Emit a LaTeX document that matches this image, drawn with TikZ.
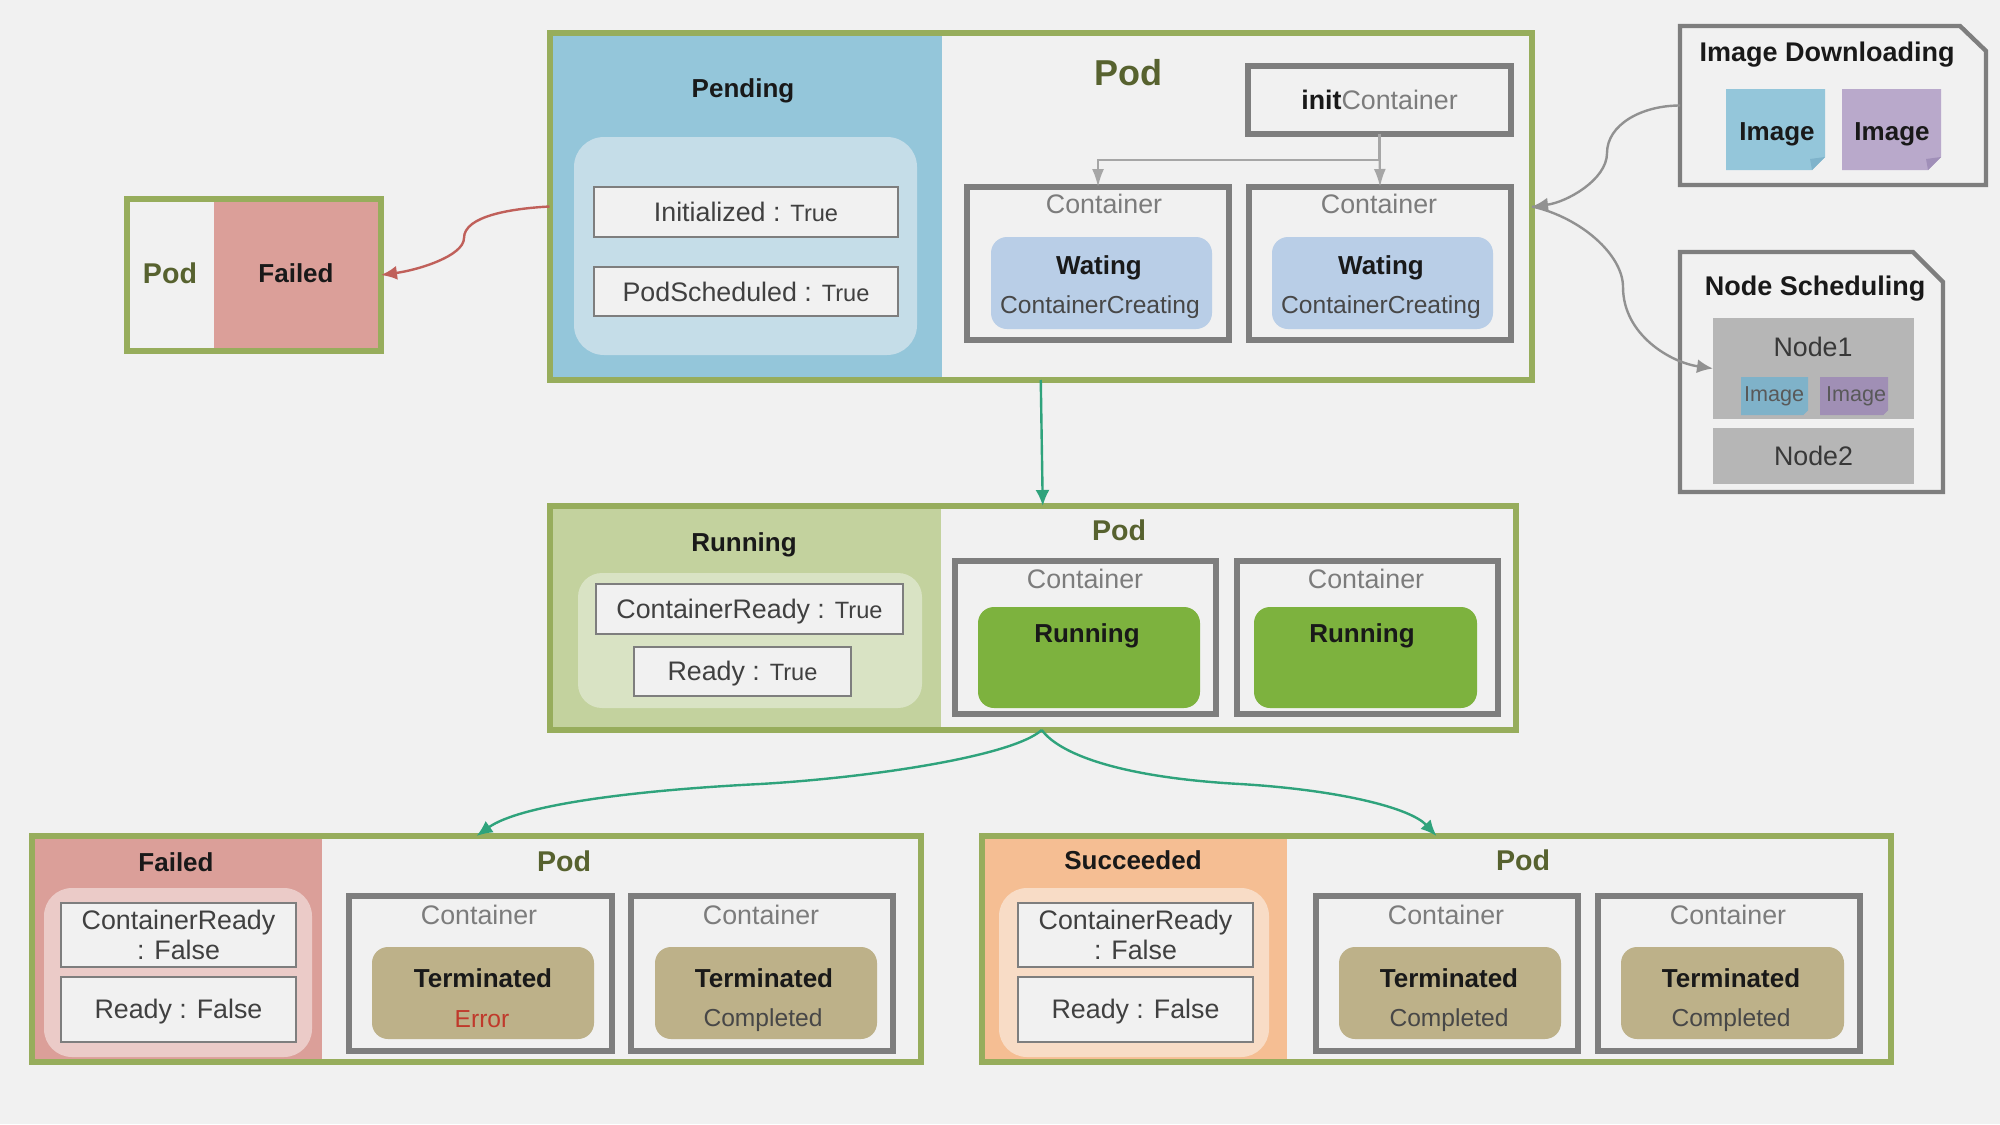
\documentclass[tikz,border=0pt]{standalone}
\usepackage{fontspec}
\setmainfont{Liberation Sans}
\usetikzlibrary{arrows.meta}
\definecolor{pagebg}{HTML}{F1F1F1}
\definecolor{framegreen}{HTML}{97AD5C}
\definecolor{boxgray}{HTML}{7E7E7E}
\definecolor{textgray}{HTML}{7C7C7C}
\definecolor{podolive}{HTML}{57622F}
\definecolor{pendblue}{HTML}{94C6DA}
\definecolor{pendinner}{HTML}{C5DDE8}
\definecolor{waitblue}{HTML}{B9CEE7}
\definecolor{runpanel}{HTML}{C3D29E}
\definecolor{runinner}{HTML}{D9E3C4}
\definecolor{rungreen}{HTML}{7DB23E}
\definecolor{tan}{HTML}{BDB189}
\definecolor{failpanel}{HTML}{DB9F99}
\definecolor{failinner}{HTML}{EBCBC8}
\definecolor{succpanel}{HTML}{F5BE93}
\definecolor{succinner}{HTML}{F8DCC6}
\definecolor{nodegray}{HTML}{B6B6B6}
\definecolor{imgblue}{HTML}{94C6DA}
\definecolor{imgpurple}{HTML}{B9A9CB}
\definecolor{imgblueD}{HTML}{7FB3CB}
\definecolor{imgpurpleD}{HTML}{A08FB8}
\definecolor{smallblue}{HTML}{7FB2C9}
\definecolor{smallpurple}{HTML}{A08FB5}
\definecolor{flowgreen}{HTML}{2FA37C}
\definecolor{flowred}{HTML}{C0605A}
\definecolor{errred}{HTML}{C0392B}

% Box given by its two corners: name, x0, y0, x1, y1, style, text
\newcommand\bx[7]{%
  \pgfmathsetmacro\bxw{(#4-#2)*0.5}%
  \pgfmathsetmacro\bxh{(#5-#3)*0.5}%
  \node[#6,minimum width=\bxw pt,minimum height=\bxh pt,inner sep=0pt,outer sep=0pt,align=center]
    (#1) at ({(#2+#4)/2},{(#3+#5)/2}) {#7};}

% Sticky note with a turned corner: x0, y0, x1, y1, fill, fold colour, fold size
\newcommand\note[7]{%
  \fill[#5] (#1,#2) -- (#3,#2) -- (#3,#4-#7) -- (#3-#7,#4) -- (#1,#4) -- cycle;
  \fill[#6] (#3,#4-#7) -- (#3-#7,#4) -- (#3-#7-2,#4-#7+2) -- cycle;}

% Text nudged down inside its box, keeping the box centred
\newcommand\lowered[1]{\raisebox{-1.25pt}[\height][\depth]{#1}}

% Status text sizes
\newcommand\reg{\fontsize{13.4}{16}\selectfont}
\newcommand\regS{\fontsize{12.3}{15}\selectfont}
\newcommand\regT{\fontsize{11.8}{15}\selectfont}
\newcommand\bld{\fontsize{13}{16}\selectfont\bfseries}

\tikzset{
  podframe/.style={draw=framegreen,line width=3pt},
  ctrbox/.style={draw=boxgray,line width=2.8pt},
  condbox/.style={draw=boxgray,line width=1.1pt,fill=pagebg,text=black!75,font=\reg},
  podtitle/.style={text=podolive,font=\fontsize{14.3}{16}\selectfont\bfseries},
  ctrtitle/.style={text=textgray,font=\reg},
  state/.style={text=black!90,font=\bld},
  detail/.style={text=black!72,font=\regS},
  pill/.style={rounded corners=8pt},
  flow/.style={-{Latex[length=8pt,width=7pt]},line width=1.2pt,draw=flowgreen},
  feed/.style={-{Latex[length=8pt,width=7pt]},line width=1.2pt,draw=boxgray!85},
  branch/.style={-{Latex[length=9pt,width=6pt]},line width=1.1pt,draw=black!35},
}

\begin{document}
\begin{tikzpicture}[x=0.5pt,y=-0.5pt]
\useasboundingbox (0,0) rectangle (2000,1124);
\fill[pagebg] (0,0) rectangle (2000,1124);

% ---- Failed pod, top left ----
\bx{fpanel}{214}{200}{381}{350}{fill=failpanel}{}
\node[state] (ftitle) at (296,273) {Failed};
\node[podtitle] (fpod) at (170,273) {Pod};
\bx{fframe}{127}{199}{381}{351}{podframe}{}

% ---- Pending pod ----
\bx{ppanel}{549}{34}{942}{379}{fill=pendblue}{}
\node[state] (ptitle) at (743,91) {Pending};
\bx{pinner}{574}{137}{917}{355}{fill=pendinner,rounded corners=15pt}{}
\bx{pc1}{594}{187}{898}{237}{condbox}{Initialized : {\regT True}}
\bx{pc2}{594}{267}{898}{316}{condbox}{PodScheduled : {\regT True}}
\bx{pframe}{549.5}{33}{1532}{380}{podframe}{}
\node[text=podolive,font=\fontsize{18}{20}\selectfont\bfseries] (ppod) at (1128,73) {Pod};
\bx{init}{1248}{66}{1511}{134}{ctrbox}{{\reg\bfseries\color{black!90}init}{\reg\color{textgray}Container}}
\bx{pct0}{967}{187}{1229}{340}{ctrbox}{}
\bx{pct1}{1249}{187}{1511}{340}{ctrbox}{}
\node[ctrtitle] (pct0t) at (1104,204) {Container};
\node[ctrtitle] (pct1t) at (1379,204) {Container};
\bx{pw0}{991}{237}{1212}{329}{fill=waitblue,pill}{}
\bx{pw1}{1272}{237}{1493}{329}{fill=waitblue,pill}{}
\node[state] (pw0a) at (1099,268) {Wating};
\node[state] (pw1a) at (1381,268) {Wating};
\node[detail] (pw0b) at (1100,307) {ContainerCreating};
\node[detail] (pw1b) at (1381,307) {ContainerCreating};
\draw[branch] (init.south) -- (pct1.north);
\draw[branch] (init.south) -- ++(0,26) -| (pct0.north);

% ---- Image downloading note ----
\draw[boxgray,line width=2.2pt] (1680,26) -- (1960,26) -- (1986,51) -- (1986,185) -- (1680,185) -- cycle;
\bx{imgdl}{1680}{26}{1986}{185}{}{}
\node[state,font=\fontsize{13.5}{16}\selectfont\bfseries] (imgdlt) at (1827,55) {Image Downloading};
\note{1726}{89}{1825}{170}{imgblue}{imgblueD}{13}
\note{1842}{89}{1941}{170}{imgpurple}{imgpurpleD}{13}
\node[state] (img0) at (1777,134) {Image};
\node[state] (img1) at (1892,134) {Image};

% ---- Node scheduling note ----
\draw[boxgray,line width=2.2pt] (1680,252) -- (1913,252) -- (1943,282) -- (1943,492) -- (1680,492) -- cycle;
\node[state,font=\fontsize{13.5}{16}\selectfont\bfseries] (nst) at (1815,289) {Node Scheduling};
\bx{node1}{1713}{318}{1914}{419}{fill=nodegray}{}
\bx{node2}{1713}{428}{1914}{484}{fill=nodegray,text=black!78,font=\reg}{Node2}
\node[text=black!78,font=\reg] (node1t) at (1813,347) {Node1};
\note{1741}{377}{1808}{415}{smallblue}{smallblue}{5}
\note{1820}{377}{1888}{415}{smallpurple}{smallpurple}{5}
\node[text=black!65,font=\fontsize{10.8}{13}\selectfont] (simg0) at (1774,396) {Image};
\node[text=black!65,font=\fontsize{10.8}{13}\selectfont] (simg1) at (1856,396) {Image};

% ---- Running pod ----
\bx{rpanel}{549}{507}{941}{729}{fill=runpanel}{}
\node[state] (rtitle) at (744,545) {Running};
\bx{rinner}{578}{573}{922}{708}{fill=runinner,rounded corners=12pt}{}
\bx{rc1}{596}{584}{903}{634}{condbox}{\lowered{ContainerReady : {\regT True}}}
\bx{rc2}{634}{647}{851}{696}{condbox}{\lowered{Ready : {\regT True}}}
\bx{rframe}{549.5}{506}{1516}{730}{podframe}{}
\node[podtitle] (rpod) at (1119,530) {Pod};
\bx{rct0}{955}{561}{1216}{714}{ctrbox}{}
\bx{rct1}{1237}{561}{1498}{714}{ctrbox}{}
\node[ctrtitle] (rct0t) at (1085,579) {Container};
\node[ctrtitle] (rct1t) at (1366,579) {Container};
\bx{rs0}{978}{607}{1200}{708}{fill=rungreen,pill}{}
\bx{rs1}{1254}{607}{1477}{708}{fill=rungreen,pill}{}
\node[state] (rs0t) at (1087,636) {Running};
\node[state] (rs1t) at (1362,636) {Running};

% ---- Failed phase, bottom left ----
\bx{xpanel}{32}{837}{322}{1061}{fill=failpanel}{}
\node[state] (xtitle) at (176,862) {Failed};
\bx{xinner}{44}{888}{312}{1057}{fill=failinner,rounded corners=14pt}{}
\bx{xc1}{61}{903}{296}{967}{condbox}{ContainerReady\\[-1pt]: False}
\bx{xc2}{61}{977}{296}{1042}{condbox}{\lowered{Ready : False}}
\bx{xframe}{32}{836}{921}{1062}{podframe}{}
\node[podtitle] (xpod) at (564,861) {Pod};
\bx{xct0}{349}{896}{612}{1051}{ctrbox}{}
\bx{xct1}{631}{896}{893}{1051}{ctrbox}{}
\node[ctrtitle] (xct0t) at (479,915) {Container};
\node[ctrtitle] (xct1t) at (761,915) {Container};
\bx{xs0}{372}{947}{594}{1039}{fill=tan,pill}{}
\bx{xs1}{655}{947}{877}{1039}{fill=tan,pill}{}
\node[state] (xs0a) at (483,978) {Terminated};
\node[state] (xs1a) at (764,978) {Terminated};
\node[text=errred,font=\regS] (xs0b) at (482,1019) {Error};
\node[detail] (xs1b) at (763,1020) {Completed};

% ---- Succeeded phase, bottom right ----
\bx{spanel}{982}{837}{1287}{1061}{fill=succpanel}{}
\node[state] (stitle) at (1133,860) {Succeeded};
\bx{sinner}{999}{888}{1269}{1057}{fill=succinner,rounded corners=14pt}{}
\bx{sc1}{1018}{903}{1253}{967}{condbox}{ContainerReady\\[-1pt]: False}
\bx{sc2}{1018}{977}{1253}{1042}{condbox}{\lowered{Ready : False}}
\bx{sframe}{982}{836}{1891}{1062}{podframe}{}
\node[podtitle] (spod) at (1523,860) {Pod};
\bx{sct0}{1316}{896}{1578}{1051}{ctrbox}{}
\bx{sct1}{1598}{896}{1860}{1051}{ctrbox}{}
\node[ctrtitle] (sct0t) at (1446,915) {Container};
\node[ctrtitle] (sct1t) at (1728,915) {Container};
\bx{ss0}{1339}{947}{1561}{1039}{fill=tan,pill}{}
\bx{ss1}{1621}{947}{1844}{1039}{fill=tan,pill}{}
\node[state] (ss0a) at (1449,978) {Terminated};
\node[state] (ss1a) at (1731,978) {Terminated};
\node[detail] (ss0b) at (1449,1020) {Completed};
\node[detail] (ss1b) at (1731,1020) {Completed};

% ---- Waypoints of the S-shaped connectors ----
\coordinate (redmid) at (464,238);
\coordinate (dlmid) at (1607,153);
\coordinate (nsmid) at (1623,287);
\coordinate (lmid) at (760,784);
\coordinate (rmid) at (1240,784);

% ---- Connectors ----
\draw[flow] (pframe.south) -- ([xshift=5pt]rframe.north);
\draw[flow] ([xshift=4.5pt]rframe.south) .. controls +(-30,27) and +(105,-6) .. (lmid)
  .. controls +(-120,6) and +(45,-32) .. (xframe.north);
\draw[flow] ([xshift=4.5pt]rframe.south) .. controls +(20,27) and +(-110,-6) .. (rmid)
  .. controls +(100,6) and +(-26,-28) .. (sframe.north);
\draw[-{Latex[length=8pt,width=7pt]},line width=1.2pt,draw=flowred]
  (pframe.west) .. controls +(-38,2) and +(0,-22) .. (redmid)
  .. controls +(0,18) and +(37,-5) .. (fframe.east);
\draw[feed] (imgdl.west) .. controls +(-39,0) and +(0,-28) .. (dlmid)
  .. controls +(0,27) and +(34,-4) .. (pframe.east);
\draw[feed] (pframe.east) .. controls +(49,11) and +(0,-32) .. (nsmid)
  .. controls +(0,48) and +(-42,-6) .. (node1.west);
\end{tikzpicture}
\end{document}
